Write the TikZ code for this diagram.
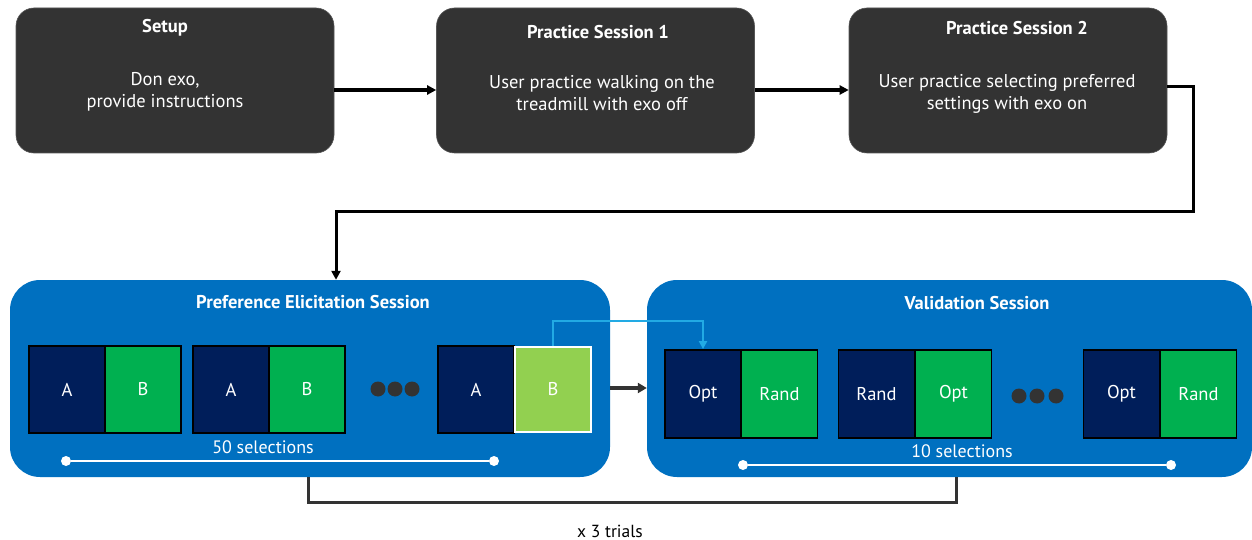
\documentclass[tikz,border=0pt]{standalone}
\usepackage{fontspec}
\setmainfont{PT Sans}
\usetikzlibrary{arrows.meta}
\definecolor{boxgray}{HTML}{333333}
\definecolor{boxedge}{HTML}{555555}
\definecolor{sessblue}{HTML}{0070C0}
\definecolor{navy}{HTML}{001E5A}
\definecolor{cellgreen}{HTML}{00B050}
\definecolor{lightgreen}{HTML}{92D050}
\definecolor{cyanline}{HTML}{22AAE4}
\definecolor{connGray}{HTML}{333333}
\tikzset{
  topbox/.style={draw=boxedge, line width=0.6pt, fill=boxgray, rounded corners=18pt,
    minimum width=318pt, minimum height=145pt, inner sep=0pt},
  sessbox/.style={fill=sessblue, rounded corners=30pt, minimum height=197pt, inner sep=0pt},
  titletxt/.style={text=white, font=\fontsize{18.5}{22}\selectfont\bfseries},
  bodytxt/.style={text=white, align=center, font=\fontsize{18.5}{21.5}\selectfont},
  celltxt/.style={text=white, font=\fontsize{18.5}{22}\selectfont, minimum width=76pt, inner sep=0pt},
  cellA/.style={celltxt, fill=navy, draw=black, line width=1.8pt},
  cellB/.style={celltxt, fill=cellgreen, draw=black, line width=1.8pt},
  cellL/.style={celltxt, fill=lightgreen, draw=white, line width=2pt},
  conn/.style={draw=black, line width=3.2pt, -{Triangle[length=9pt,width=9pt]}},
  loopconn/.style={draw=black, line width=3pt, -{Triangle[length=9pt,width=9pt]}},
  darkconn/.style={draw=connGray, line width=3.4pt, -{Triangle[length=9pt,width=10pt]}},
  cyconn/.style={draw=cyanline, line width=2.6pt, -{Triangle[length=8pt,width=8pt]}},
  bracket/.style={draw=connGray, line width=3pt},
  selline/.style={draw=white, line width=2pt},
  seldot/.style={circle, fill=white, inner sep=0pt, minimum size=10pt},
  dotg/.style={circle, fill=boxgray, inner sep=0pt, minimum size=15pt},
  seltxt/.style={text=white, font=\fontsize{18}{21}\selectfont, inner sep=0pt},
}
\begin{document}
\begin{tikzpicture}[x=1pt,y=-1pt]
\useasboundingbox (0,0) rectangle (1252,540);
% top boxes
\node[topbox] (setup) at (175,80.5) {};
\node[topbox] (p1) at (595.5,80.5) {};
\node[topbox] (p2) at (1008,80.5) {};
\node[titletxt] (setupT) at (165,28) {Setup};
\node[titletxt] (p1T) at (598,32) {Practice Session 1};
\node[titletxt] (p2T) at (1017,28) {Practice Session 2};
\node[bodytxt] (setupB) at (165,92) {Don exo,\\provide instructions};
\node[bodytxt] (p1B) at (602,93) {User practice walking on the\\treadmill with exo off};
\node[bodytxt] (p2B) at (1007,94) {User practice selecting preferred\\settings with exo on};
% top connectors
\draw[conn] ([yshift=-9.5pt]setup.east) -- ([yshift=-9.5pt]p1.west);
\draw[conn] ([yshift=-9.5pt]p1.east) -- ([yshift=-9.5pt]p2.west);
% session boxes
\node[sessbox, minimum width=600pt] (pref) at (310,378.5) {};
\node[sessbox, minimum width=605pt] (val) at (949.5,378.5) {};
\node[titletxt] (prefT) at (313,302) {Preference Elicitation Session};
\node[titletxt] (valT) at (977,303) {Validation Session};
% loop connector
\coordinate (turn) at (1193,211);
\coordinate (drop) at (336,211);
\draw[loopconn] ([yshift=-6.5pt]p2.east) -| (turn) -- (drop) -- (drop |- pref.north);
% preference cells
\node[cellA, minimum height=87pt] (pa1) at (67,389.5) {A};
\node[cellB, minimum height=87pt] (pb1) at (143,389.5) {B};
\node[cellA, minimum height=87pt] (pa2) at (231,389.5) {A};
\node[cellB, minimum height=87pt] (pb2) at (307,389.5) {B};
\node[dotg] (pd1) at (378,389) {};
\node[dotg] (pd2) at (395,389) {};
\node[dotg] (pd3) at (412,389) {};
\node[cellA, minimum height=87pt] (pa3) at (476,389.5) {A};
\node[cellL, minimum height=85pt] (pb3) at (553,389.5) {B};
\node[seltxt] (prefS) at (263,447) {50 selections};
\node[seldot] (ps1) at (66,461) {};
\node[seldot] (ps2) at (494,461) {};
\draw[selline] (ps1) -- (ps2);
% validation cells
\node[cellA, minimum height=88pt] (vo1) at (703,394) {Opt};
\node[cellB, minimum height=88pt] (vr1) at (779.5,394) {Rand};
\node[cellA, minimum height=88pt] (vr2) at (876.5,394) {Rand};
\node[cellB, minimum height=88pt] (vo2) at (953.5,394) {Opt};
\node[dotg] (vd1) at (1019,396) {};
\node[dotg] (vd2) at (1037,396) {};
\node[dotg] (vd3) at (1056,396) {};
\node[cellA, minimum height=88pt] (vo3) at (1121.5,394) {Opt};
\node[cellB, minimum height=88pt] (vr3) at (1198.5,394) {Rand};
\node[seltxt] (valS) at (962,451) {10 selections};
\node[seldot] (vs1) at (743,465) {};
\node[seldot] (vs2) at (1171,465) {};
\draw[selline] (vs1) -- (vs2);
% connectors between sessions
\draw[darkconn] ([yshift=-9.5pt]pref.east) -- ([yshift=-9.5pt]val.west);
\coordinate (cy) at (553,321);
\draw[cyconn] (pb3.north) -- (cy) -| (vo1.north);
% bracket
\coordinate (bl) at (308,502);
\coordinate (br) at (956,502);
\draw[bracket] (bl |- pref.south) -- (bl) -- (br) -- (br |- val.south);
\node[font=\fontsize{17.5}{20}\selectfont, inner sep=0pt] (trials) at (610,531) {x 3 trials};
\end{tikzpicture}
\end{document}
